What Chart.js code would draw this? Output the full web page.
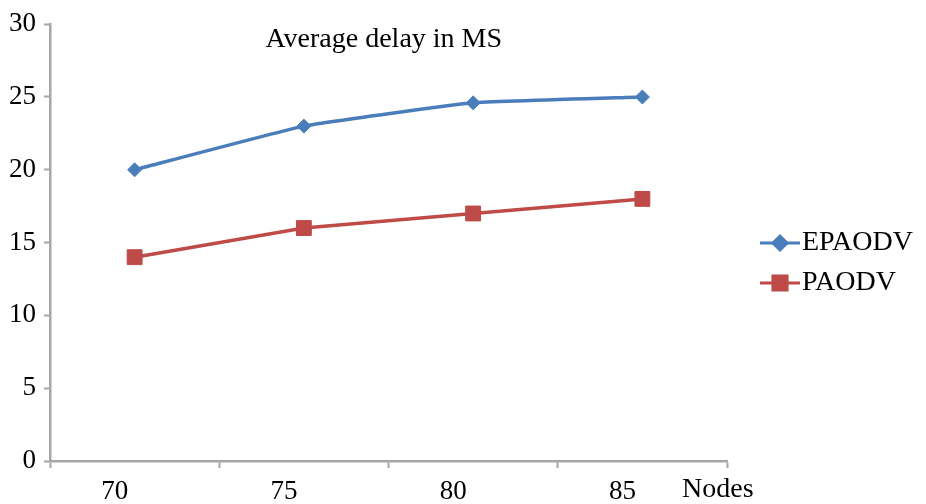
<!DOCTYPE html>
<html lang="en">
<head>
    <meta charset="UTF-8">
    <title>Average delay in MS</title>
    <style>
        html, body {
            margin: 0;
            padding: 0;
            background: #fff;
            overflow: hidden;
        }
        .chart-box {
            width: 926px;
            height: 504px;
        }
    </style>
    <script src="https://cdn.jsdelivr.net/npm/chart.js"></script>
</head>
<body>
    <div class="chart-box">
        <canvas id="delay-chart" width="926" height="504"></canvas>
    </div>

    <script>
        // dados
        const nodes = ['70', '75', '80', '85'];
        const epaodv = [20, 23, 24.6, 25];
        const paodv = [14, 16, 17, 18];
        const yTicks = [0, 5, 10, 15, 20, 25, 30];

        const blue = '#4a7ebb';
        const red = '#be4b48';
        const axisGray = '#a6a6a6';
        const serif = "'Liberation Serif', 'DejaVu Serif', serif";

        // titulo, legenda e rotulo "Nodes" desenhados por cima
        const extras = {
            id: 'extras',
            afterDraw(chart) {
                const c = chart.ctx;
                const area = chart.chartArea;
                c.save();
                c.fillStyle = '#000';
                c.textBaseline = 'middle';

                c.font = '28px ' + serif;
                c.textAlign = 'center';
                c.fillText('Average delay in MS', area.left + area.width * 0.493, 40);

                c.textAlign = 'left';
                c.fillText('Nodes', area.right - 45, 490);

                const items = [
                    { text: 'EPAODV', color: blue, style: 'rectRot', r: 7, y: 243 },
                    { text: 'PAODV', color: red, style: 'rect', r: 10, y: 283 }
                ];
                items.forEach(it => {
                    c.strokeStyle = it.color;
                    c.lineWidth = 3;
                    c.beginPath();
                    c.moveTo(760, it.y);
                    c.lineTo(800, it.y);
                    c.stroke();
                    c.fillStyle = it.color;
                    Chart.helpers.drawPoint(c, { pointStyle: it.style, radius: it.r, borderWidth: 1 }, 780, it.y);
                    c.fillStyle = '#000';
                    c.fillText(it.text, 802, it.y);
                });
                c.restore();
            }
        };

        const ctx = document.getElementById('delay-chart').getContext('2d');

        const chart = new Chart(ctx, {
            type: 'line',
            data: {
                labels: nodes,
                datasets: [{
                    label: 'EPAODV',
                    data: epaodv,
                    borderColor: blue,
                    backgroundColor: blue,
                    borderWidth: 3.5,
                    pointStyle: 'rectRot',
                    pointRadius: 7,
                    pointBorderWidth: 1,
                    fill: false,
                    tension: 0.1,
                }, {
                    label: 'PAODV',
                    data: paodv,
                    borderColor: red,
                    backgroundColor: red,
                    borderWidth: 3.5,
                    pointStyle: 'rect',
                    pointRadius: 10.5,
                    pointBorderWidth: 1,
                    fill: false,
                    tension: 0,
                }]
            },
            options: {
                responsive: false,
                animation: false,
                layout: {
                    padding: { top: 22, right: 199, left: 0, bottom: 0 }
                },
                plugins: {
                    legend: { display: false },
                    title: { display: false },
                    tooltip: { enabled: false },
                },
                scales: {
                    x: {
                        offset: true,
                        afterFit: (s) => { s.height = 43; },
                        grid: {
                            offset: true,
                            drawOnChartArea: false,
                            drawTicks: true,
                            tickLength: 7,
                            tickWidth: 2,
                            tickColor: axisGray,
                        },
                        border: { color: axisGray, width: 2.5 },
                        ticks: {
                            color: '#000',
                            padding: 8,
                            labelOffset: -20,
                            font: { family: serif, size: 27 },
                        },
                    },
                    y: {
                        min: 0,
                        max: 30,
                        afterFit: (s) => { s.width = 50; },
                        afterBuildTicks: (s) => { s.ticks = yTicks.map(v => ({ value: v })); },
                        grid: {
                            drawOnChartArea: false,
                            drawTicks: true,
                            tickLength: 6,
                            tickWidth: 2,
                            tickColor: axisGray,
                        },
                        border: { color: axisGray, width: 2.5 },
                        ticks: {
                            color: '#000',
                            padding: 8,
                            font: { family: serif, size: 27 },
                        },
                    },
                },
            },
            plugins: [extras],
        });
    </script>
</body>
</html>
